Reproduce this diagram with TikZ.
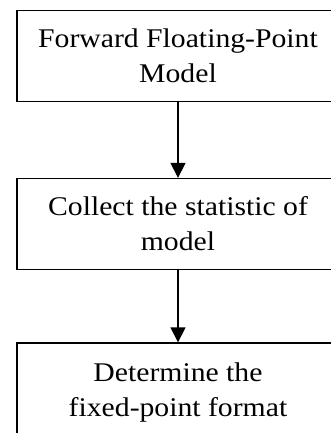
\documentclass[tikz,border=0pt]{standalone}
\usepackage{fontspec}
\setmainfont{Liberation Serif}[FakeStretch=1.1]
\usetikzlibrary{arrows.meta}
\tikzset{
  stepbox/.style={draw=black, line width=1.3pt, minimum width=322pt, minimum height=91pt,
    align=center, inner sep=0pt, font=\fontsize{27}{35}\selectfont},
  flowarrow/.style={draw=black, line width=1.3pt, -{Triangle[length=15pt,width=15pt]}}
}
\begin{document}
\begin{tikzpicture}[x=1pt,y=-1pt]
\useasboundingbox (0,0) rectangle (331,433);
\node[stepbox] (b1) at (178,56) {Forward Floating-Point\\Model};
\node[stepbox] (b2) at (178,224) {Collect the statistic of\\model};
\node[stepbox, minimum height=100pt] (b3) at (178,393) {Determine the\\fixed-point format};
\draw[flowarrow] (b1) -- (b2);
\draw[flowarrow] (b2) -- (b3);
\end{tikzpicture}
\end{document}
